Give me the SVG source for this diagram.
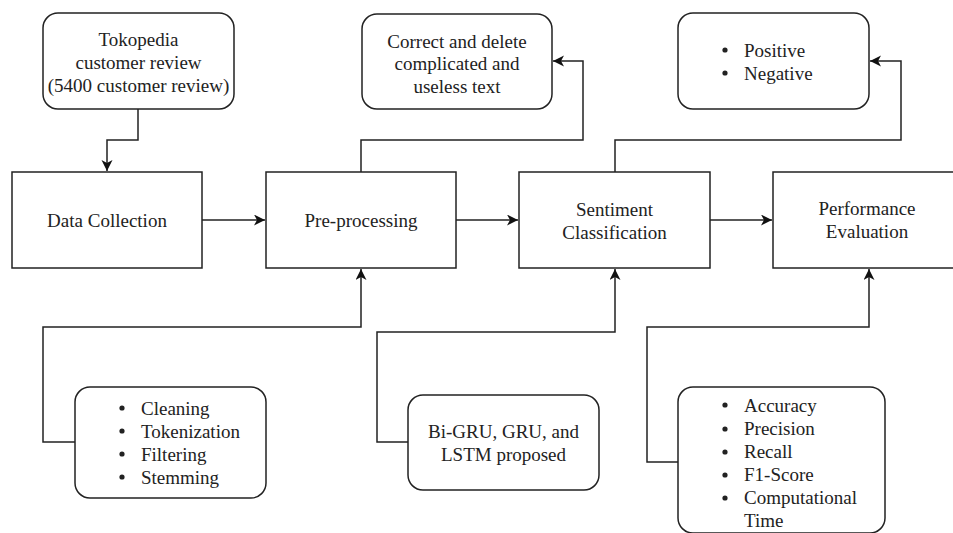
<svg xmlns="http://www.w3.org/2000/svg" width="953" height="533" viewBox="0 0 953 533" font-family="Liberation Serif, Times New Roman, serif">
<style>
.box{fill:#fff;stroke:#222;stroke-width:1.5}
.t{font-size:19px;fill:#222}
.c{text-anchor:middle}
.con{fill:none;stroke:#222;stroke-width:1.5}
</style>
<defs>
<marker id="arr" markerUnits="userSpaceOnUse" markerWidth="12" markerHeight="12" refX="11" refY="5.5" orient="auto">
<path d="M0,0 L11,5.5 L0,11 L3,5.5 Z" fill="#111"/>
</marker>
</defs>
<rect width="953" height="533" fill="#fff"/>
<g id="connectors">
<path class="con" d="M138,109 V140 H107 V171" marker-end="url(#arr)"/>
<path class="con" d="M202,220 H265" marker-end="url(#arr)"/>
<path class="con" d="M456,220 H518" marker-end="url(#arr)"/>
<path class="con" d="M710,220 H772" marker-end="url(#arr)"/>
<path class="con" d="M361,172 V140 H583 V61 H553" marker-end="url(#arr)"/>
<path class="con" d="M615,172 V140 H901 V61 H870" marker-end="url(#arr)"/>
<path class="con" d="M75,442 H43 V327 H361 V269" marker-end="url(#arr)"/>
<path class="con" d="M408,442 H377 V332 H615 V269" marker-end="url(#arr)"/>
<path class="con" d="M678,462 H647 V327 H869 V269" marker-end="url(#arr)"/>
</g>
<g id="tokopedia">
<rect class="box" x="43" y="13" width="191" height="96" rx="15"/>
<text class="t c" x="138.5" y="45.5">Tokopedia</text>
<text class="t c" x="138.5" y="68.5">customer review</text>
<text class="t c" x="138.5" y="91.5">(5400 customer review)</text>
</g>
<g id="correct">
<rect class="box" x="362" y="14" width="190" height="95" rx="15"/>
<text class="t c" x="457" y="47.5">Correct and delete</text>
<text class="t c" x="457" y="70">complicated and</text>
<text class="t c" x="457" y="93">useless text</text>
</g>
<g id="classes">
<rect class="box" x="678" y="13" width="191" height="96" rx="15"/>
<circle cx="725" cy="50" r="2.6" fill="#222"/>
<text class="t" x="744" y="56.5">Positive</text>
<circle cx="725" cy="73" r="2.6" fill="#222"/>
<text class="t" x="744" y="79.5">Negative</text>
</g>
<g id="data-collection">
<rect class="box" x="12" y="172" width="190" height="96"/>
<text class="t c" x="107" y="226.5">Data Collection</text>
</g>
<g id="pre-processing">
<rect class="box" x="266" y="172" width="190" height="96"/>
<text class="t c" x="361" y="226.5">Pre-processing</text>
</g>
<g id="sentiment">
<rect class="box" x="519" y="172" width="191" height="96"/>
<text class="t c" x="614.5" y="215.5">Sentiment</text>
<text class="t c" x="614.5" y="238.5">Classification</text>
</g>
<g id="performance">
<rect class="box" x="773" y="172" width="190" height="96"/>
<text class="t c" x="867" y="214.5">Performance</text>
<text class="t c" x="867" y="237.5">Evaluation</text>
</g>
<g id="preprocessing-steps">
<rect class="box" x="75" y="387" width="191" height="111" rx="15"/>
<circle cx="122" cy="408" r="2.6" fill="#222"/>
<text class="t" x="141" y="414.5">Cleaning</text>
<circle cx="122" cy="431" r="2.6" fill="#222"/>
<text class="t" x="141" y="437.5">Tokenization</text>
<circle cx="122" cy="454" r="2.6" fill="#222"/>
<text class="t" x="141" y="460.5">Filtering</text>
<circle cx="122" cy="477" r="2.6" fill="#222"/>
<text class="t" x="141" y="483.5">Stemming</text>
</g>
<g id="models">
<rect class="box" x="408" y="395" width="191" height="95" rx="15"/>
<text class="t c" x="503.5" y="437.5">Bi-GRU, GRU, and</text>
<text class="t c" x="503.5" y="460.5">LSTM proposed</text>
</g>
<g id="metrics">
<rect class="box" x="678" y="387" width="207" height="146" rx="15"/>
<circle cx="725" cy="405" r="2.6" fill="#222"/>
<text class="t" x="744" y="411.5">Accuracy</text>
<circle cx="725" cy="429" r="2.6" fill="#222"/>
<text class="t" x="744" y="435">Precision</text>
<circle cx="725" cy="452" r="2.6" fill="#222"/>
<text class="t" x="744" y="458">Recall</text>
<circle cx="725" cy="475" r="2.6" fill="#222"/>
<text class="t" x="744" y="481">F1-Score</text>
<circle cx="725" cy="498" r="2.6" fill="#222"/>
<text class="t" x="744" y="504">Computational</text>
<text class="t" x="744" y="527">Time</text>
</g>
</svg>
